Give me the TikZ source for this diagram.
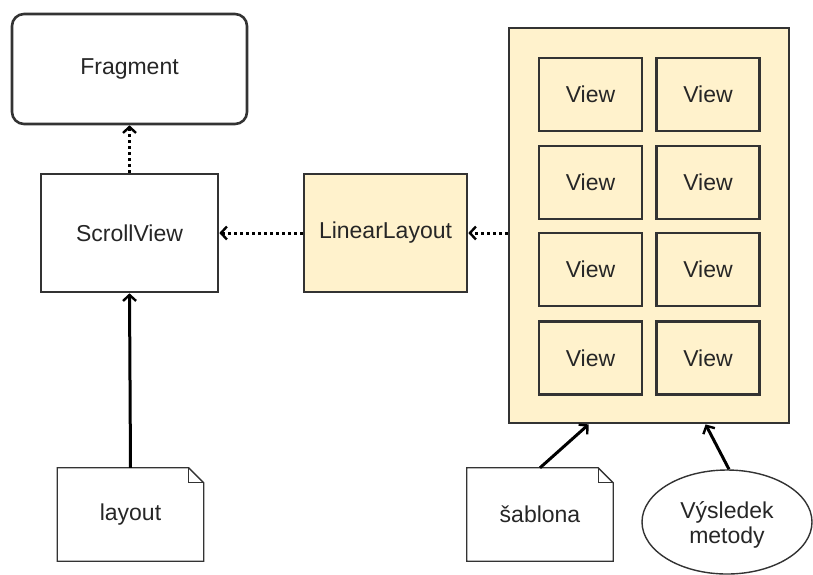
\documentclass[tikz,border=0pt]{standalone}
\usepackage{fontspec}
\setmainfont{Liberation Sans}
\usetikzlibrary{arrows.meta,shapes.geometric,calc}
\definecolor{edgegray}{HTML}{333333}
\definecolor{paneltint}{HTML}{FFF2CC}
\definecolor{inkgray}{HTML}{262626}
\tikzset{
  x=1pt, y=-1pt,
  every node/.style={text=inkgray, font=\fontsize{23}{25}\selectfont, inner sep=0pt, align=center},
  plainbox/.style={draw=edgegray, line width=2.6pt, fill=white, minimum width=177pt, minimum height=118pt},
  tintbox/.style={draw=edgegray, line width=2.6pt, fill=paneltint},
  viewbox/.style={tintbox, minimum width=103pt, minimum height=73pt},
  notebox/.style={minimum width=146pt, minimum height=93pt},
  noteline/.style={draw=edgegray, line width=1.3pt},
  usesarrow/.style={line width=3pt, -{Straight Barb[length=6pt,width=13pt,line width=2.4pt]}},
  dottedarrow/.style={usesarrow, dash pattern=on 3pt off 3pt},
}
% outline of a note with a folded top-right corner
\newcommand{\drawnote}[1]{%
  \draw[noteline] (#1.south west) -- (#1.north west) -- ([xshift=-15pt]#1.north east)
    -- ([yshift=-15pt]#1.north east) -- (#1.south east) -- cycle;
  \draw[noteline] ([xshift=-15pt]#1.north east) |- ([yshift=-15pt]#1.north east);}
\begin{document}
\begin{tikzpicture}
\useasboundingbox (0,0) rectangle (813,574);

% left column
\node[plainbox, rounded corners=12pt, minimum width=235pt, minimum height=110pt] (frag) at (129.5,69) {Fragment};
\node[plainbox] (scroll) at (129.5,233) {ScrollView};
\node[tintbox, minimum width=163pt, minimum height=118pt] (linear) at (385.5,233) {LinearLayout};
\node[notebox] (layout) at (130.5,514.5) {layout};
\drawnote{layout}

% panel holding the grid of views
\node[tintbox, line width=2.8pt, minimum width=280pt, minimum height=395pt] (panel) at (649,225.5) {};
\foreach \r/\y in {1/94.5, 2/182.5, 3/269.5, 4/358} {
  \node[viewbox] (va\r) at (590.5,\y) {View};
  \node[viewbox] (vb\r) at (708,\y) {View};
}

% sources feeding the panel
\node[notebox] (sablona) at (540,514.5) {šablona};
\drawnote{sablona}
\node[ellipse, draw=edgegray, line width=1.4pt, fill=white, minimum width=170pt, minimum height=104pt] (result) at (727,522) {};
\node at ([yshift=-3pt]result.center) {Výsledek\\metody};

% connectors
\draw[dottedarrow] (scroll.north) -- (frag.south);
\draw[dottedarrow] (linear.west) -- (scroll.east);
\draw[dottedarrow] (linear.east -| panel.west) -- (linear.east);
\draw[usesarrow] (layout.north) -- (scroll.south);
\coordinate (pinA) at ([xshift=81pt]panel.south west);
\coordinate (pinB) at ([xshift=198pt]panel.south west);
\draw[usesarrow] (sablona.north) -- (pinA);
\draw[usesarrow] ([xshift=2pt]result.north) -- (pinB);
\end{tikzpicture}
\end{document}
